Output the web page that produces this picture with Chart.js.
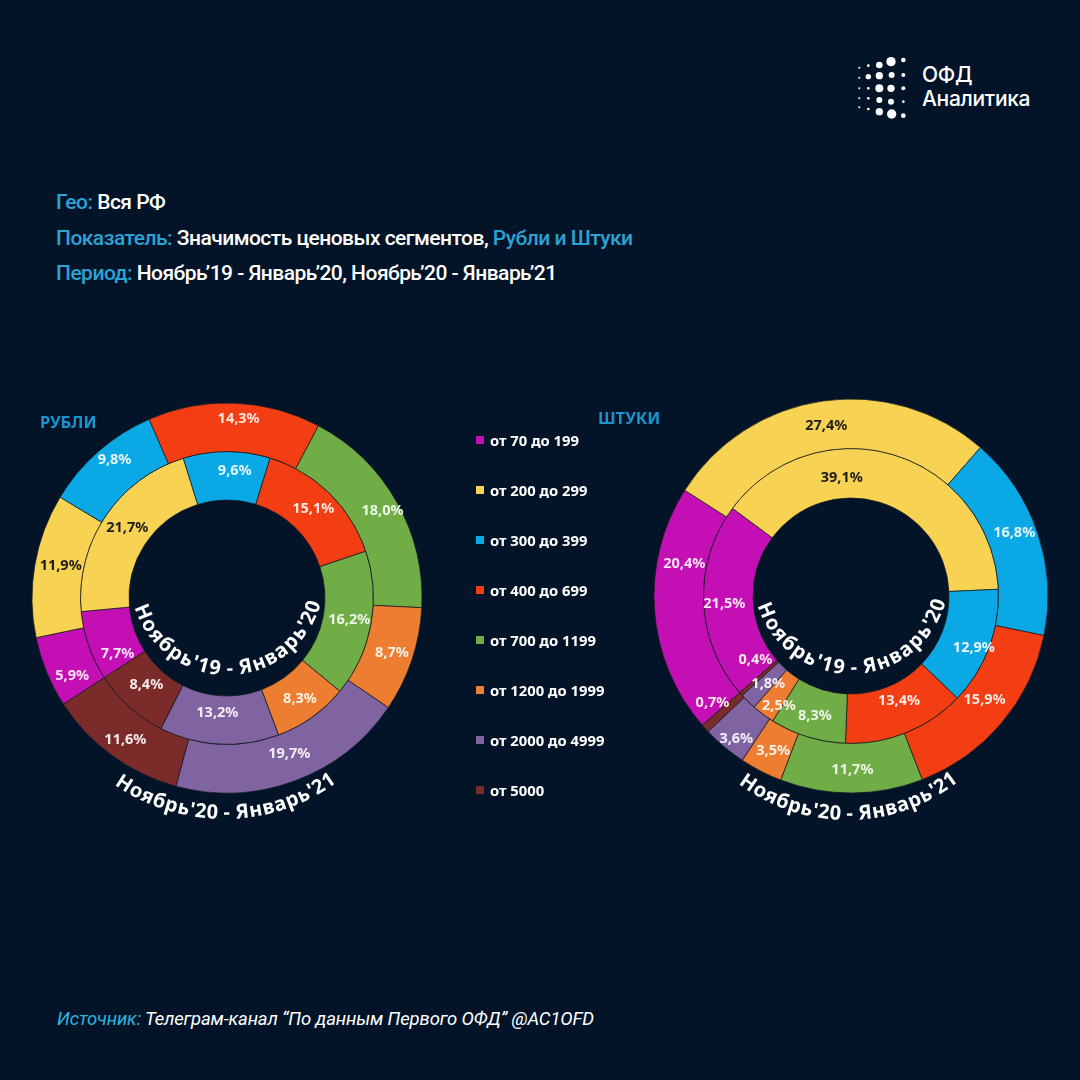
<!DOCTYPE html>
<html>
<head>
<meta charset="utf-8">
<script src="https://cdn.jsdelivr.net/npm/chart.js@4"></script>
<style>
  html, body { margin: 0; padding: 0; background: #031428; }
  #page { position: relative; width: 1080px; height: 1080px; overflow: hidden; background: #031428; color: #fff; font-family: Roboto, sans-serif; }
  #page div, #page canvas, #page svg { position: absolute; }
  .hl { color: #2ba3d3; }
  .meta { left: 56px; font-size: 21px; font-weight: 500; letter-spacing: -0.52px; white-space: nowrap; line-height: 24px; }
  .unit { font-family: "Noto Sans", sans-serif; font-weight: 700; font-size: 16.5px; color: #1b93cf; line-height: 20px; }
  .logo { left: 922px; font-family: Inter, sans-serif; font-weight: 500; font-size: 21px; line-height: 24px; letter-spacing: -0.3px; white-space: nowrap; }
  #source { left: 57px; top: 1007px; font-size: 18.5px; font-style: italic; line-height: 24px; white-space: nowrap; letter-spacing: -0.15px; }
  .key { left: 476px; width: 8px; height: 8px; }
  .keytext { left: 490px; font-family: "Noto Sans", sans-serif; font-weight: 700; font-size: 14.8px; line-height: 18px; white-space: nowrap; }
</style>
</head>
<body>
<div id="page">
  <svg id="dots" style="left:840px;top:45px" width="210" height="85" viewBox="0 0 630 255"></svg>
  <div class="logo" style="top:63px">ОФД</div>
  <div class="logo" style="top:87px">Аналитика</div>

  <div class="meta" style="top:190px"><span class="hl">Гео:</span> Вся РФ</div>
  <div class="meta" style="top:226px"><span class="hl">Показатель:</span> Значимость ценовых сегментов, <span class="hl">Рубли и Штуки</span></div>
  <div class="meta" style="top:261px"><span class="hl">Период:</span> Ноябрь’19 - Январь’20, Ноябрь’20 - Январь’21</div>

  <canvas id="rubChart" width="480" height="480" style="left:-13px;top:358px"></canvas>
  <canvas id="pcsChart" width="480" height="480" style="left:611px;top:356px"></canvas>

  <div class="unit" style="left:40px;top:412px">РУБЛИ</div>
  <div class="unit" style="left:598px;top:408px">ШТУКИ</div>

  <div id="source"><span class="hl" style="color:#2bb5de">Источник:</span> Телеграм-канал “По данным Первого ОФД” @AC1OFD</div>
</div>

<script>
const categories = ["от 70 до 199", "от 200 до 299", "от 300 до 399", "от 400 до 699", "от 700 до 1199", "от 1200 до 1999", "от 2000 до 4999", "от 5000"];
const rub1920 = [7.7, 21.7, 9.6, 15.1, 16.2, 8.3, 13.2, 8.4];
const rub2021 = [5.9, 11.9, 9.8, 14.3, 18.0, 8.7, 19.7, 11.6];
const pcs1920 = [21.5, 39.1, 12.9, 13.4, 8.3, 2.5, 1.8, 0.4];
const pcs2021 = [20.4, 27.4, 16.8, 15.9, 11.7, 3.5, 3.6, 0.7];
const periodOld = "Ноябрь'19 - Январь'20";
const periodNew = "Ноябрь'20 - Январь'21";

const colors = ["#c30fb4", "#f8d253", "#0aa9e6", "#f33e13", "#70ad47", "#ed7d31", "#8064a2", "#7b2c2a"];
const labelColors = ["#fbe3f8", "#1d1d1b", "#e6f6fd", "#fde8e0", "#eef7e8", "#fdf0e6", "#f3eef8", "#f7e9e8"];

// logo dots, x y r in the svg's viewBox
const logoDots = [
  [58,68,3],[85,62,4],[118,60,10],[153,50,14],[190,45,7],
  [58,98,3],[85,95,8],[118,92,11],[155,90,9],[190,90,6],
  [58,130,3],[85,130,4],[118,130,12],[153,130,11],[190,130,6],
  [58,160,3],[85,160,4],[118,165,9],[153,170,9],[190,170,4],
  [58,187,3],[85,192,4],[118,200,11],[155,207,14],[190,212,7]
];
document.getElementById("dots").innerHTML = logoDots
  .map((d) => `<circle cx="${d[0]}" cy="${d[1]}" r="${d[2]}" fill="#fff"/>`).join("");

// legend
const page = document.getElementById("page");
categories.forEach((name, i) => {
  const y = 440 + i * 50;
  const key = document.createElement("div");
  key.className = "key";
  key.style.top = y - 4 + "px";
  key.style.background = colors[i];
  page.appendChild(key);
  const text = document.createElement("div");
  text.className = "keytext";
  text.style.top = y - 9 + "px";
  text.textContent = name;
  page.appendChild(text);
});

function drawArcText(ctx, text, cx, cy, r, span) {
  // text runs along the bottom of the circle, letter tops towards the centre
  const total = ctx.measureText(text).width;
  let a = span / 2;
  const k = (span * r) / total;
  for (const ch of text) {
    const w = ctx.measureText(ch).width * k;
    const mid = a - w / r / 2;
    ctx.save();
    ctx.translate(cx + Math.sin(-mid) * r, cy + Math.cos(mid) * r);
    ctx.rotate(mid);
    ctx.fillText(ch, 0, 0);
    ctx.restore();
    a -= w / r;
  }
}

const ringLabels = {
  id: "ringLabels",
  afterDraw(chart, args, opts) {
    const ctx = chart.ctx;
    ctx.save();
    ctx.textAlign = "center";
    ctx.textBaseline = "middle";
    ctx.font = '700 14.5px "Noto Sans", sans-serif';
    chart.data.datasets.forEach((ds, d) => {
      chart.getDatasetMeta(d).data.forEach((arc, i) => {
        const p = arc.tooltipPosition();
        const n = opts.nudge[d + ":" + i] || [0, 0];
        ctx.fillStyle = labelColors[i];
        ctx.fillText(ds.data[i].toFixed(1).replace(".", ",") + "%", p.x + n[0], p.y + n[1]);
      });
    });
    const arc = chart.getDatasetMeta(0).data[0];
    ctx.fillStyle = "#fff";
    ctx.font = '700 20px "Noto Sans", sans-serif';
    ctx.textBaseline = "alphabetic";
    opts.curves.forEach((c) => drawArcText(ctx, c.text, arc.x + c.dx, arc.y + c.dy, c.r, c.span));
    ctx.restore();
  },
};

function ring(id, oldData, newData, rotation, pad, nudge, curves) {
  return new Chart(document.getElementById(id), {
    type: "doughnut",
    data: {
      labels: categories,
      datasets: [
        // first dataset is the outer ring
        { label: periodNew, data: newData, backgroundColor: colors, borderColor: "rgba(25,30,35,0.75)", borderWidth: 1 },
        { label: periodOld, data: oldData, backgroundColor: colors, borderColor: "rgba(25,30,35,0.75)", borderWidth: 1 },
      ],
    },
    options: {
      responsive: false,
      animation: false,
      rotation: rotation,
      cutout: 98,
      layout: { padding: pad },
      plugins: {
        legend: { display: false },
        tooltip: { enabled: false },
        ringLabels: { nudge: nudge, curves: curves },
      },
    },
    plugins: [ringLabels],
  });
}

// hand placed labels in the original sit off the arc centre, these move them ("ring:slice": [dx, dy])
ring("rubChart", rub1920, rub2021, 237, 44.5,
  {
    "0:0": [3, 13], "0:1": [2, -3], "0:2": [0, -10], "0:3": [5, -9], "0:4": [7, -3], "0:5": [3, 1], "0:6": [3, -4], "0:7": [-1, 4],
    "1:0": [6, 16], "1:1": [2, -2], "1:2": [8, -5], "1:3": [1, -2], "1:4": [2, 0], "1:5": [2, 1], "1:6": [-3, -7], "1:7": [1, -4],
  },
  [
    { text: periodOld, dx: 0, dy: -20, r: 97, span: 2.55 },
    { text: periodNew, dx: -3, dy: 29, r: 192, span: 1.22 },
  ]);

ring("pcsChart", pcs1920, pcs2021, 229, 42.5,
  {
    "0:0": [5, -45], "0:2": [0, -8], "0:3": [2, -7], "0:4": [1, 2], "0:5": [1, 2], "0:6": [-4, 11], "0:7": [-11, -9],
    "1:0": [-4, 3], "1:1": [-45, -1], "1:2": [8, 9], "1:3": [2, -9], "1:4": [0, 3], "1:5": [1, 11], "1:6": [3, 0], "1:7": [-4, -18],
  },
  [
    { text: periodOld, dx: 0, dy: -20, r: 98, span: 2.55 },
    { text: periodNew, dx: -4, dy: 44, r: 180, span: 1.3 },
  ]);
</script>
</body>
</html>
